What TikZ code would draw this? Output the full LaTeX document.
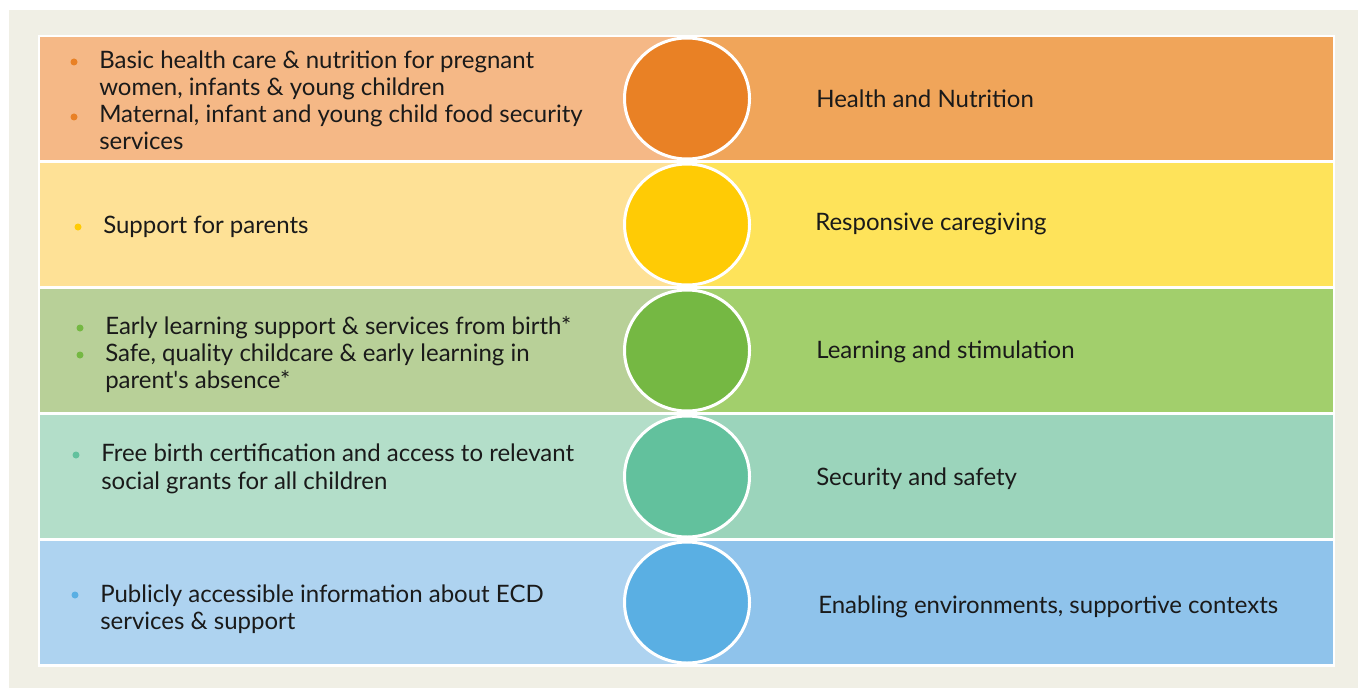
\documentclass[tikz,border=0pt]{standalone}
\usepackage{fontspec}
\setmainfont{Lato}
\usetikzlibrary{shapes.geometric}

% row colours: light (left), mid (right), strong (circle and bullets)
\definecolor{page}{HTML}{F0EFE5}
\definecolor{txt}{HTML}{1A1A1A}
\definecolor{orL}{HTML}{F5B886}
\definecolor{orM}{HTML}{F0A55A}
\definecolor{orS}{HTML}{E98125}
\definecolor{yeL}{HTML}{FEE196}
\definecolor{yeM}{HTML}{FEE35A}
\definecolor{yeS}{HTML}{FFCB05}
\definecolor{grL}{HTML}{B8D098}
\definecolor{grM}{HTML}{A2CF6C}
\definecolor{grS}{HTML}{75B843}
\definecolor{tqL}{HTML}{B3DEC9}
\definecolor{tqM}{HTML}{9BD4BB}
\definecolor{tqS}{HTML}{62C19D}
\definecolor{blL}{HTML}{AED3F0}
\definecolor{blM}{HTML}{8FC3EB}
\definecolor{blS}{HTML}{5AAFE3}

\begin{document}
\begin{tikzpicture}[x=0.75pt,y=-0.75pt]

% multi-line items are placed by the baseline of their last line
\tikzstyle{itemtext}=[anchor=base west, inner sep=0pt, align=left, text=txt,
  font=\fontsize{18pt}{20.5pt}\selectfont]
\tikzstyle{headtext}=[itemtext]
\tikzstyle{bulletdot}=[circle, inner sep=0pt, minimum size=5.25pt]
\tikzstyle{hub}=[ellipse, draw=white, line width=2.25pt,
  minimum width=93.75pt, minimum height=90.75pt, inner sep=0pt]

\useasboundingbox (0,0) rectangle (1358,688);
\fill[page] (9,10) rectangle (1358,688);
\fill[white] (38,35) rectangle (1335,667);

% bands and circles
\foreach \top/\lc/\mc/\sc/\n in {37/orL/orM/orS/1, 163/yeL/yeM/yeS/2,
    289/grL/grM/grS/3, 415/tqL/tqM/tqS/4, 541/blL/blM/blS/5} {
  \fill[\lc] (40,\top) rectangle (687,\top+123);
  \fill[\mc] (687,\top) rectangle (1333,\top+123);
  \node[hub, fill=\sc] (c\n) at (687,\top+61.5) {};
}

% left: services
\node[bulletdot, fill=orS] (b1) at (74,62) {};
\node[itemtext] (s1) at (99,95.5) {Basic health care \& nutrition for pregnant\\women, infants \& young children};
\node[bulletdot, fill=orS] (b2) at (74,117) {};
\node[itemtext] (s2) at (99,150) {Maternal, infant and young child food security\\services};

\node[bulletdot, fill=yeS] (b3) at (78,227) {};
\node[itemtext] (s3) at (103,233) {Support for parents};

\node[bulletdot, fill=grS] (b4) at (80,328) {};
\node[itemtext] (s4) at (105,334) {Early learning support \& services from birth*};
\node[bulletdot, fill=grS] (b5) at (80,355) {};
\node[itemtext] (s5) at (105,388.5) {Safe, quality childcare \& early learning in\\parent\textquotesingle s absence*};

\node[bulletdot, fill=tqS] (b6) at (76,455) {};
\node[itemtext] (s6) at (101,489) {Free birth certification and access to relevant\\social grants for all children};

\node[bulletdot, fill=blS] (b7) at (75,595) {};
\node[itemtext] (s7) at (100,629.5) {Publicly accessible information about ECD\\services \& support};

% right: components
\node[headtext] (h1) at (816,108) {Health and Nutrition};
\node[headtext] (h2) at (815,230) {Responsive caregiving};
\node[headtext] (h3) at (816,358) {Learning and stimulation};
\node[headtext] (h4) at (816,485) {Security and safety};
\node[headtext] (h5) at (818,613) {Enabling environments, supportive contexts};

\end{tikzpicture}
\end{document}
